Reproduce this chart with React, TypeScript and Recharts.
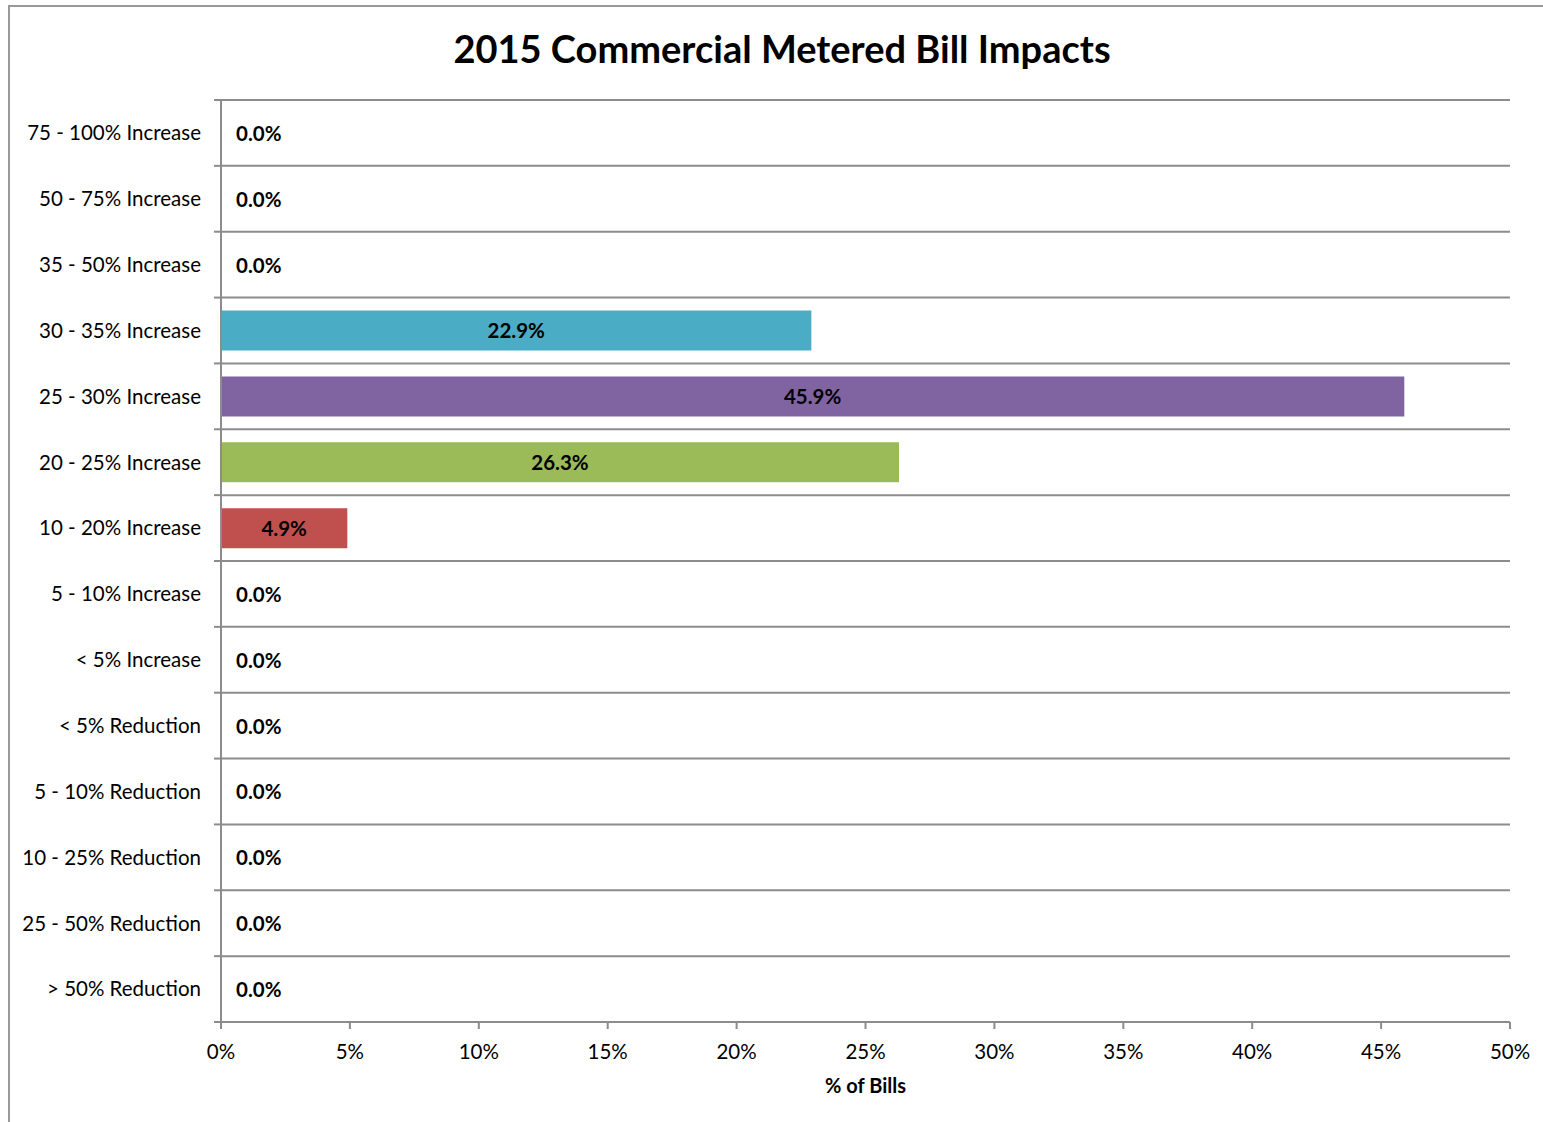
import React from 'react';
import { BarChart, Bar, XAxis, YAxis, CartesianGrid, LabelList, Cell } from 'recharts';

const categories = [
    '75 - 100% Increase',
    '50 - 75% Increase',
    '35 - 50% Increase',
    '30 - 35% Increase',
    '25 - 30% Increase',
    '20 - 25% Increase',
    '10 - 20% Increase',
    '5 - 10% Increase',
    '< 5% Increase',
    '< 5% Reduction',
    '5 - 10% Reduction',
    '10 - 25% Reduction',
    '25 - 50% Reduction',
    '> 50% Reduction',
];
const shares = [0, 0, 0, 22.9, 45.9, 26.3, 4.9, 0, 0, 0, 0, 0, 0, 0];
const barColors = ['none', 'none', 'none', '#4BACC6', '#8064A2', '#9BBB59', '#C0504D', 'none', 'none', 'none', 'none', 'none', 'none', 'none'];
const xTicks = [0, 5, 10, 15, 20, 25, 30, 35, 40, 45, 50];

const data = categories.map((name, i) => ({ name, value: shares[i] }));

const FONT = 'Lato, "Open Sans", sans-serif';
const GRID = '#8c8c8c';

// Excel puts the category ticks on band edges, not centres
const CategoryTick = (props: any) => {
    const { x, y, payload, index } = props;
    const band = 922 / categories.length;
    const top = y - band / 2;
    const last = index === categories.length - 1;
    return (
        <g>
            <line x1={x + 1} x2={x + 8} y1={top} y2={top} stroke={GRID} strokeWidth={2} />
            {last && <line x1={x + 1} x2={x + 8} y1={y + band / 2} y2={y + band / 2} stroke={GRID} strokeWidth={2} />}
            <text x={x - 12} y={y} dy="0.36em" textAnchor="end" fontSize={20.5} fontFamily={FONT} fill="#000">
                {payload.value}
            </text>
        </g>
    );
};

const ValueLabel = (props: any) => {
    const { x, y, width, height, value } = props;
    const text = `${Number(value).toFixed(1)}%`;
    const zero = Number(value) === 0;
    const cx = zero ? x + 15 : x + width / 2;
    return (
        <text x={cx} y={y + height / 2} dy="0.38em" textAnchor={zero ? 'start' : 'middle'}
            fontSize={20.5} fontWeight="bold" fontFamily={FONT} fill="#000">
            {text}
        </text>
    );
};

export default function App() {
    return (
        <div style={{ position: 'absolute', left: 0, top: 0, width: 1543, height: 1122, background: '#fff', overflow: 'hidden' }}>
            <div style={{ position: 'absolute', left: 8, top: 5, width: 1560, height: 1140, border: '2px solid #999', boxSizing: 'border-box' }} />
            <div style={{ position: 'absolute', left: 0, top: 25, width: 1564, textAlign: 'center', fontFamily: FONT, fontWeight: 'bold', fontSize: 38, color: '#000' }}>
                2015 Commercial Metered Bill Impacts
            </div>
            <div style={{ position: 'absolute', left: 0, top: 0 }}>
                <BarChart width={1543} height={1122} data={data} layout="vertical" barCategoryGap={0}
                    margin={{ top: 100, right: 33, left: 8, bottom: 40 }}>
                    <CartesianGrid vertical={false} stroke={GRID} strokeWidth={2}
                        horizontalCoordinatesGenerator={({ offset }: any) =>
                            categories.map((_, i) => offset.top + (i * offset.height) / categories.length)} />
                    <XAxis type="number" domain={[0, 50]} ticks={xTicks} tickFormatter={(v) => `${v}%`}
                        stroke={GRID} strokeWidth={2} tickSize={7} tickMargin={15} height={60}
                        tick={{ fill: '#000', fontSize: 20.5, fontFamily: FONT }}
                        label={{ value: '% of Bills', position: 'insideBottom', offset: -11, fill: '#000', fontSize: 20, fontWeight: 'bold', fontFamily: FONT }} />
                    <YAxis type="category" dataKey="name" width={213} stroke={GRID} strokeWidth={2}
                        tickLine={false} tick={<CategoryTick />} interval={0} />
                    <Bar dataKey="value" barSize={40} minPointSize={1} isAnimationActive={false}>
                        {data.map((_, i) => <Cell key={i} fill={barColors[i]} />)}
                        <LabelList dataKey="value" content={<ValueLabel />} />
                    </Bar>
                </BarChart>
            </div>
        </div>
    );
}
